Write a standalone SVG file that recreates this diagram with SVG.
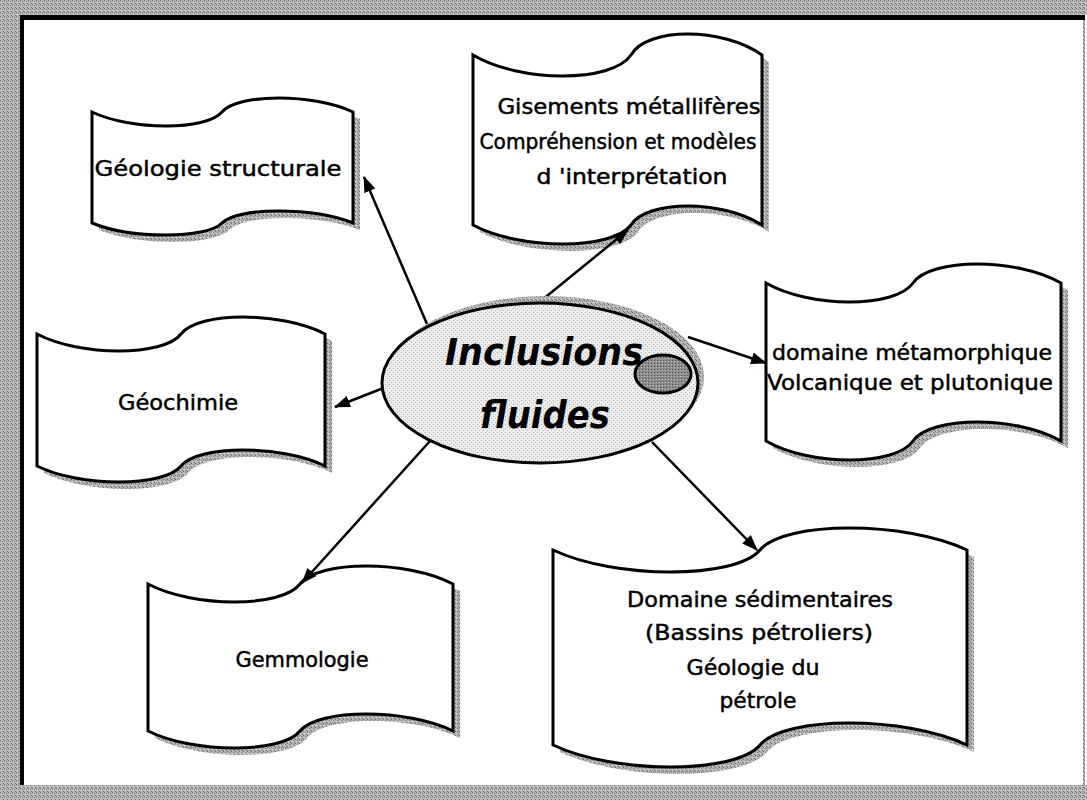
<svg xmlns="http://www.w3.org/2000/svg" width="1087" height="800" viewBox="0 0 1087 800">
<defs>
<pattern id="grain" width="4" height="4" patternUnits="userSpaceOnUse">
<rect width="4" height="4" fill="#b4b4b4"/>
<rect x="0" y="0" width="1" height="1" fill="#6a6a6a"/>
<rect x="2" y="1" width="1" height="1" fill="#7a7a7a"/>
<rect x="1" y="2" width="1" height="1" fill="#e0e0e0"/>
<rect x="3" y="3" width="1" height="1" fill="#707070"/>
</pattern>
<pattern id="light" width="4" height="4" patternUnits="userSpaceOnUse">
<rect width="4" height="4" fill="#ededed"/>
<rect x="1" y="0" width="1" height="1" fill="#a8a8a8"/>
<rect x="3" y="2" width="1" height="1" fill="#b8b8b8"/>
</pattern>
<pattern id="dark" width="3" height="3" patternUnits="userSpaceOnUse">
<rect width="3" height="3" fill="#8c8c8c"/>
<rect x="0" y="0" width="1" height="1" fill="#505050"/>
<rect x="2" y="1" width="1" height="1" fill="#c0c0c0"/>
</pattern>
<marker id="ah" viewBox="0 0 16 12" refX="15" refY="6" markerWidth="16" markerHeight="12" markerUnits="userSpaceOnUse" orient="auto">
<path d="M0,0 L16,6 L0,12 z" fill="#000"/>
</marker>
</defs>
<style>
.shadow{fill:url(#grain);stroke:none}
.box{fill:#fff;stroke:#000;stroke-width:3;stroke-linejoin:miter}
.lbl{font-family:"DejaVu Sans","Liberation Sans",sans-serif;font-size:22px;fill:#000;stroke:#000;stroke-width:0.5;text-anchor:middle}
.conn{stroke:#000;stroke-width:2.5;fill:none;marker-end:url(#ah)}
.title{font-family:"DejaVu Sans","Liberation Sans",sans-serif;font-size:37px;font-weight:bold;font-style:italic;fill:#000;text-anchor:middle}
</style>
<rect width="1087" height="800" fill="#fff"/>
<g id="frame">
<rect x="0" y="0" width="20" height="800" fill="url(#grain)"/>
<rect x="0" y="0" width="1087" height="15" fill="url(#grain)"/>
<rect x="0" y="785" width="1087" height="15" fill="url(#grain)"/>
<rect x="1083" y="15" width="2" height="775" fill="url(#grain)"/>
<line x1="20" y1="17.5" x2="1085" y2="17.5" stroke="#000" stroke-width="5"/>
<line x1="22" y1="15" x2="22" y2="785" stroke="#000" stroke-width="4"/>
</g>
<g id="node-geologie">
<path class="shadow" transform="translate(7,7)" d="M92,112 C131,130.6 206.4,130.6 222,112 C237.7,93.4 313.7,93.4 353,112 L353,223 C313.7,207 237.7,207 222,223 C206.4,239 131,239 92,223 Z"/>
<path class="box" d="M92,112 C131,130.6 206.4,130.6 222,112 C237.7,93.4 313.7,93.4 353,112 L353,223 C313.7,207 237.7,207 222,223 C206.4,239 131,239 92,223 Z"/>
<text class="lbl" x="218" y="176" textLength="247" lengthAdjust="spacingAndGlyphs">Géologie structurale</text>
</g>
<g id="node-gisements">
<path class="shadow" transform="translate(7,7)" d="M473,55 C520.4,83 612,83 631,55 C646.7,27 722.7,27 762,55 L762,225 C722.7,199.7 646.7,199.7 631,225 C612,250.3 520.4,250.3 473,225 Z"/>
<path class="box" d="M473,55 C520.4,83 612,83 631,55 C646.7,27 722.7,27 762,55 L762,225 C722.7,199.7 646.7,199.7 631,225 C612,250.3 520.4,250.3 473,225 Z"/>
<text class="lbl" x="629" y="114" textLength="263" lengthAdjust="spacingAndGlyphs">Gisements métallifères</text>
<text class="lbl" x="618" y="149" textLength="277" lengthAdjust="spacingAndGlyphs">Compréhension et modèles</text>
<text class="lbl" x="632" y="184" textLength="191" lengthAdjust="spacingAndGlyphs">d 'interprétation</text>
</g>
<g id="node-metamorphique">
<path class="shadow" transform="translate(7,7)" d="M766,283 C810.1,308.3 895.4,308.3 913,283 C930.8,257.7 1016.6,257.7 1061,283 L1061,441 C1016.6,415.7 930.8,415.7 913,441 C895.4,466.3 810.1,466.3 766,441 Z"/>
<path class="box" d="M766,283 C810.1,308.3 895.4,308.3 913,283 C930.8,257.7 1016.6,257.7 1061,283 L1061,441 C1016.6,415.7 930.8,415.7 913,441 C895.4,466.3 810.1,466.3 766,441 Z"/>
<text class="lbl" x="912" y="360" textLength="280" lengthAdjust="spacingAndGlyphs">domaine métamorphique</text>
<text class="lbl" x="910" y="390" textLength="286" lengthAdjust="spacingAndGlyphs">Volcanique et plutonique</text>
</g>
<g id="node-geochimie">
<path class="shadow" transform="translate(7,7)" d="M37,334 C80.2,356.6 163.7,356.6 181,334 C198.3,311.4 281.8,311.4 325,334 L325,466 C281.8,444.7 198.3,444.7 181,466 C163.7,487.3 80.2,487.3 37,466 Z"/>
<path class="box" d="M37,334 C80.2,356.6 163.7,356.6 181,334 C198.3,311.4 281.8,311.4 325,334 L325,466 C281.8,444.7 198.3,444.7 181,466 C163.7,487.3 80.2,487.3 37,466 Z"/>
<text class="lbl" x="178" y="410" textLength="120" lengthAdjust="spacingAndGlyphs">Géochimie</text>
</g>
<g id="node-gemmologie">
<path class="shadow" transform="translate(7,7)" d="M148,584 C193.6,608 281.8,608 300,584 C318.4,560 407.1,560 453,584 L453,731 C407.1,708.4 318.4,708.4 300,731 C281.8,753.6 193.6,753.6 148,731 Z"/>
<path class="box" d="M148,584 C193.6,608 281.8,608 300,584 C318.4,560 407.1,560 453,584 L453,731 C407.1,708.4 318.4,708.4 300,731 C281.8,753.6 193.6,753.6 148,731 Z"/>
<text class="lbl" x="302" y="667" textLength="133" lengthAdjust="spacingAndGlyphs">Gemmologie</text>
</g>
<g id="node-sedimentaire">
<path class="shadow" transform="translate(7,7)" d="M553,550 C615.1,579.3 735.2,579.3 760,550 C784.8,520.7 904.9,520.7 967,550 L967,745 C904.9,715.7 784.8,715.7 760,745 C735.2,774.3 615.1,774.3 553,745 Z"/>
<path class="box" d="M553,550 C615.1,579.3 735.2,579.3 760,550 C784.8,520.7 904.9,520.7 967,550 L967,745 C904.9,715.7 784.8,715.7 760,745 C735.2,774.3 615.1,774.3 553,745 Z"/>
<text class="lbl" x="760" y="607" textLength="266" lengthAdjust="spacingAndGlyphs">Domaine sédimentaires</text>
<text class="lbl" x="759" y="640" textLength="228" lengthAdjust="spacingAndGlyphs">(Bassins pétroliers)</text>
<text class="lbl" x="753" y="675" textLength="133" lengthAdjust="spacingAndGlyphs">Géologie du</text>
<text class="lbl" x="758" y="708" textLength="77" lengthAdjust="spacingAndGlyphs">pétrole</text>
</g>
<g id="connectors">
<line class="conn" x1="427" y1="324" x2="364" y2="177"/>
<line class="conn" x1="542" y1="300" x2="628" y2="230"/>
<line class="conn" x1="688" y1="337" x2="766" y2="363"/>
<line class="conn" x1="386" y1="387" x2="335" y2="407"/>
<line class="conn" x1="430" y1="441" x2="302" y2="583"/>
<line class="conn" x1="652" y1="442" x2="757" y2="550"/>
</g>
<g id="node-center">
<ellipse cx="546" cy="377" rx="158" ry="81" fill="url(#grain)"/>
<ellipse cx="540" cy="383" rx="158" ry="80" fill="url(#light)" stroke="#000" stroke-width="3"/>
<ellipse cx="663" cy="374" rx="28" ry="19" fill="url(#dark)" stroke="#000" stroke-width="3"/>
<text class="title" x="544" y="365" textLength="198" lengthAdjust="spacingAndGlyphs">Inclusions</text>
<text class="title" x="545" y="428" textLength="130" lengthAdjust="spacingAndGlyphs">fluides</text>
</g>
</svg>
